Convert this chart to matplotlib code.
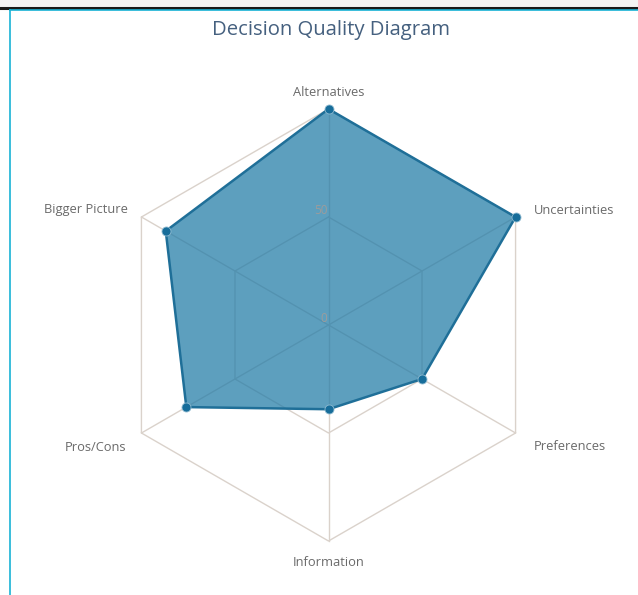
import numpy as np
import matplotlib
matplotlib.use("Agg")
import matplotlib.pyplot as plt
from matplotlib.lines import Line2D

plt.rcParams["font.family"] = ["Open Sans", "DejaVu Sans"]

categories = ["Alternatives", "Uncertainties", "Preferences",
              "Information", "Pros/Cons", "Bigger Picture"]
scores = [100, 100, 50, 39, 76, 87]
ring_levels = [50, 100]
tick_labels = [0, 50]
max_score = 100

# pixel layout of the original
W, H = 638, 595
cx, cy = 328.5, 325.0    # centre, px from top-left
R = 216.0                # radius of the 100 ring in px
k = R / max_score        # px per unit

fig = plt.figure(figsize=(W / 100, H / 100), dpi=100)
fig.patch.set_facecolor("white")
ax = fig.add_axes([0, 0, 1, 1])
ax.set_xlim(-cx / k, (W - cx) / k)
ax.set_ylim(-(H - cy) / k, cy / k)
ax.axis("off")

n = len(categories)
angles = np.arange(n) * 2 * np.pi / n   # clockwise from the top


def to_xy(r, a):
    return r * np.sin(a), r * np.cos(a)


grid_col = "#dad2cb"
# hexagon rings
for lvl in ring_levels:
    gx, gy = to_xy(np.full(n + 1, lvl), np.append(angles, angles[0]))
    ax.plot(gx, gy, color=grid_col, lw=1.0, zorder=1)
# spokes
for a in angles:
    sx, sy = to_xy(np.array([0, max_score]), a)
    ax.plot(sx, sy, color=grid_col, lw=1.0, zorder=1)

# data polygon
vals = np.array(scores, dtype=float)
px, py = to_xy(vals, angles)
ax.fill(px, py, color="#1f7aa6", alpha=0.72, lw=0, zorder=2)
ax.plot(np.append(px, px[0]), np.append(py, py[0]), color="#1f6f98", lw=1.8, zorder=3)
ax.plot(px, py, "o", ms=6.5, color="#176d9a", mec="#8fbad0", mew=0.6, zorder=4)

# tick labels on the top axis
for t in tick_labels:
    tx, ty = to_xy(t, 0.0)
    ax.annotate(str(t), xy=(tx, ty), xytext=(-1, 6), textcoords="offset pixels",
                ha="right", va="center", fontsize=8.5, color="#9c9c9c", zorder=5)

# category labels
offsets = [(0, 16, "center"), (18, 6, "left"), (18, -14, "left"),
           (0, -22, "center"), (-15, -14, "right"), (-14, 7, "right")]
for cat, a, (dx, dy, ha) in zip(categories, angles, offsets):
    lx, ly = to_xy(max_score, a)
    ax.annotate(cat, xy=(lx, ly), xytext=(dx, dy), textcoords="offset pixels",
                ha=ha, va="center", fontsize=9.3, color="#6a6a6a", zorder=5)

fig.text(331 / W, 1 - 30 / H, "Decision Quality Diagram", ha="center", va="center",
         fontsize=14.6, color="#45607f")

# frame of the screenshot
fig.patches.append(plt.Rectangle((0, 1 - 6 / H), 1, 6 / H, transform=fig.transFigure,
                                 color="#f4f4f4", zorder=0))
fig.add_artist(Line2D([0, 1], [1 - 7.5 / H, 1 - 7.5 / H], color="#1a1a1a", lw=2.2))
fig.add_artist(Line2D([10 / W, 1], [1 - 9.5 / H, 1 - 9.5 / H], color="#19b3d6", lw=1.2))
fig.add_artist(Line2D([10 / W, 10 / W], [0, 1 - 9.5 / H], color="#19b3d6", lw=1.2))

fig.savefig("out.png", dpi=100)
